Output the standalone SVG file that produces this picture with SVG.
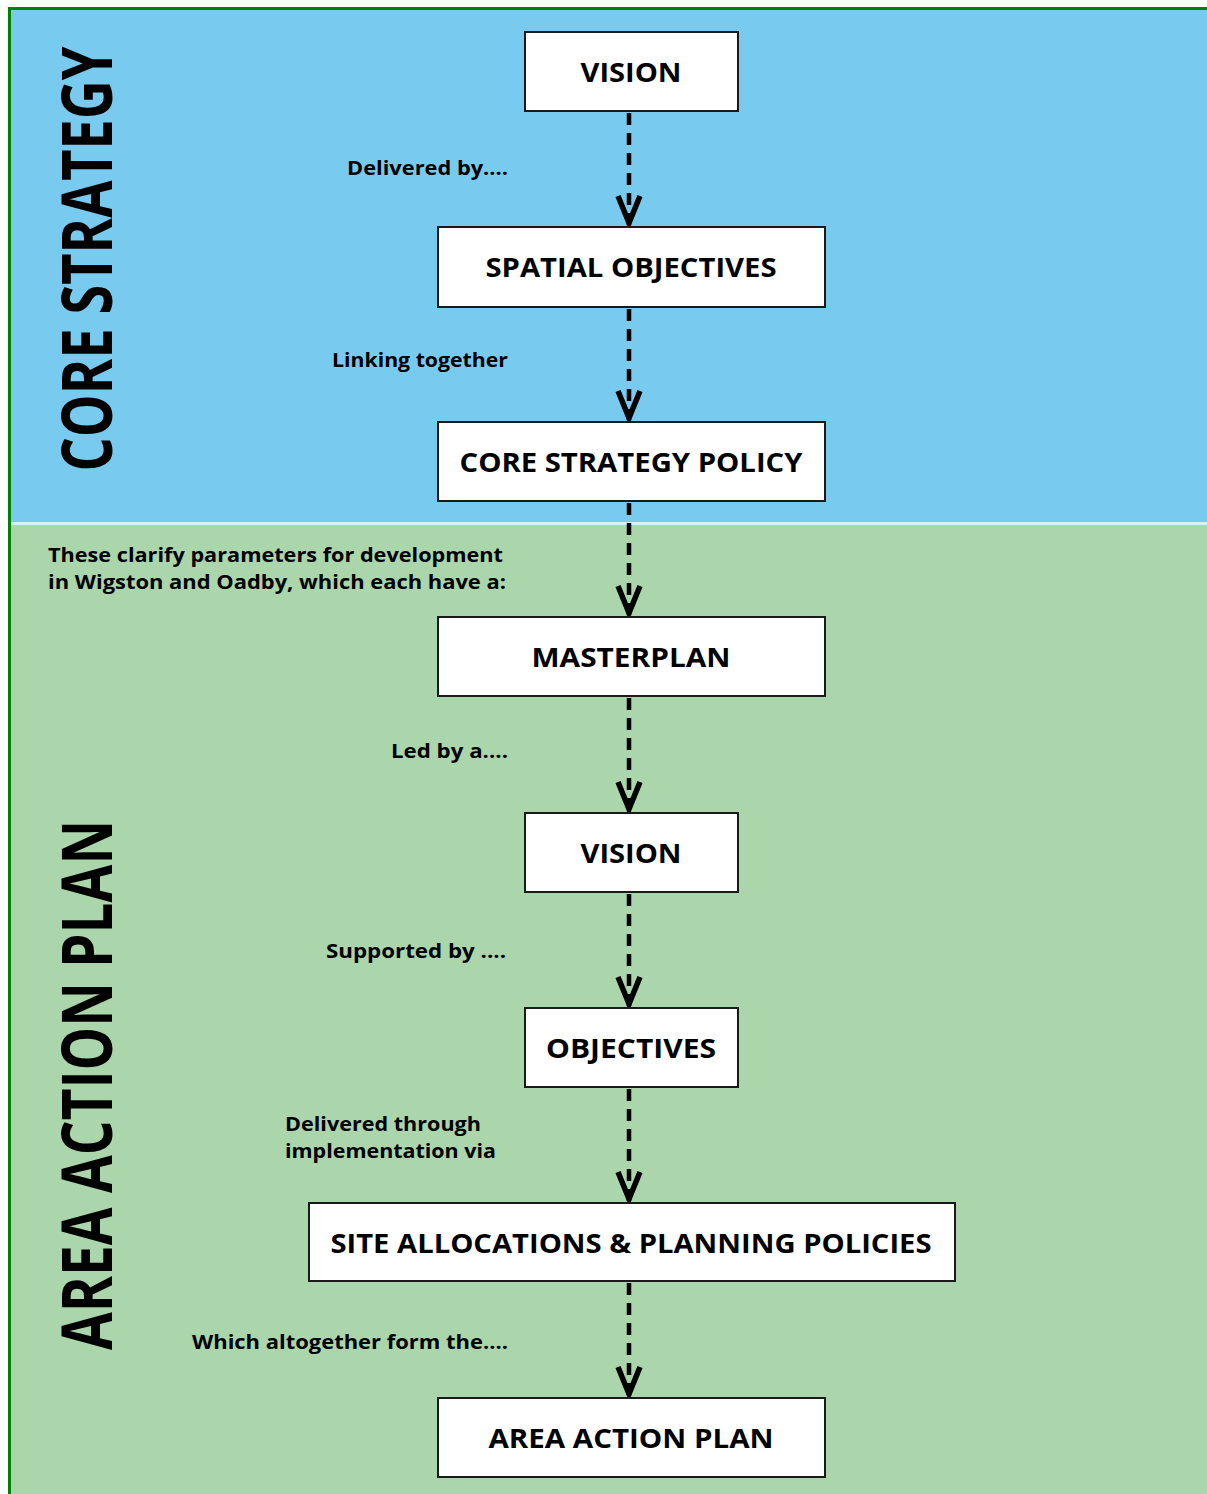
<svg xmlns="http://www.w3.org/2000/svg" width="1207" height="1494" viewBox="0 0 1207 1494">
  <defs>
    <marker id="arr" markerUnits="userSpaceOnUse" viewBox="-34 -16 38 32" refX="0" refY="0" markerWidth="38" markerHeight="32" orient="auto" overflow="visible">
      <path d="M-29,-11 L-2,0 L-29,11" fill="none" stroke="#000" stroke-width="5.5" stroke-linejoin="miter" stroke-miterlimit="10"/>
    </marker>
  </defs>
  <style>
    .box { fill: #ffffff; stroke: #1a1a1a; stroke-width: 2; }
    .lbl { font-family: "Open Sans", "DejaVu Sans", sans-serif; font-weight: 700; font-size: 26px; fill: #000; text-anchor: middle; }
    .note { font-family: "Open Sans", "DejaVu Sans", sans-serif; font-weight: 700; font-size: 19px; fill: #000; }
    .side { font-family: "Open Sans", "DejaVu Sans", sans-serif; font-weight: 700; font-size: 70px; fill: #000; text-anchor: middle; }
    .conn { stroke: #000; stroke-width: 4.5; stroke-dasharray: 12 8; fill: none; marker-end: url(#arr); }
  </style>
  <rect x="0" y="0" width="1207" height="1494" fill="#ffffff"/>
  <rect x="10" y="9" width="1197" height="514" fill="#78CBEE"/>
  <rect x="10" y="525" width="1197" height="969" fill="#ABD5AA"/>
  <rect x="10" y="522" width="1197" height="3" fill="#D4F2F8"/>
  <path d="M9.5,1494 V8.5 H1207" fill="none" stroke="#008000" stroke-width="3"/>

  <text class="side" transform="translate(112,259) rotate(-90)" textLength="425" lengthAdjust="spacingAndGlyphs">CORE STRATEGY</text>
  <text class="side" transform="translate(112,1085) rotate(-90)" textLength="530" lengthAdjust="spacingAndGlyphs">AREA ACTION PLAN</text>

  <g id="connectors">
    <line class="conn" x1="629" y1="113" x2="629" y2="225"/>
    <line class="conn" x1="629" y1="309" x2="629" y2="420"/>
    <line class="conn" x1="629" y1="503" x2="629" y2="615"/>
    <line class="conn" x1="629" y1="698" x2="629" y2="811"/>
    <line class="conn" x1="629" y1="894" x2="629" y2="1006"/>
    <line class="conn" x1="629" y1="1089" x2="629" y2="1201"/>
    <line class="conn" x1="629" y1="1283" x2="629" y2="1396"/>
  </g>

  <g id="labels">
    <text class="note" x="508" y="175" text-anchor="end" textLength="161" lengthAdjust="spacingAndGlyphs">Delivered by....</text>
    <text class="note" x="508" y="367" text-anchor="end" textLength="176" lengthAdjust="spacingAndGlyphs">Linking together</text>
    <text class="note" x="48" y="562" textLength="455" lengthAdjust="spacingAndGlyphs">These clarify parameters for development</text>
    <text class="note" x="48" y="589" textLength="458" lengthAdjust="spacingAndGlyphs">in Wigston and Oadby, which each have a:</text>
    <text class="note" x="508" y="758" text-anchor="end" textLength="117" lengthAdjust="spacingAndGlyphs">Led by a....</text>
    <text class="note" x="506" y="958" text-anchor="end" textLength="180" lengthAdjust="spacingAndGlyphs">Supported by ....</text>
    <text class="note" x="285" y="1131" textLength="196" lengthAdjust="spacingAndGlyphs">Delivered through</text>
    <text class="note" x="285" y="1158" textLength="211" lengthAdjust="spacingAndGlyphs">implementation via</text>
    <text class="note" x="508" y="1349" text-anchor="end" textLength="316" lengthAdjust="spacingAndGlyphs">Which altogether form the....</text>
  </g>

  <g id="vision1">
    <rect class="box" x="525" y="32" width="213" height="79"/>
    <text class="lbl" x="631" y="82" textLength="101" lengthAdjust="spacingAndGlyphs">VISION</text>
  </g>
  <g id="spatial-objectives">
    <rect class="box" x="438" y="227" width="387" height="80"/>
    <text class="lbl" x="631" y="277" textLength="291" lengthAdjust="spacingAndGlyphs">SPATIAL OBJECTIVES</text>
  </g>
  <g id="core-strategy-policy">
    <rect class="box" x="438" y="422" width="387" height="79"/>
    <text class="lbl" x="631" y="472" textLength="343" lengthAdjust="spacingAndGlyphs">CORE STRATEGY POLICY</text>
  </g>
  <g id="masterplan">
    <rect class="box" x="438" y="617" width="387" height="79"/>
    <text class="lbl" x="631" y="667" textLength="199" lengthAdjust="spacingAndGlyphs">MASTERPLAN</text>
  </g>
  <g id="vision2">
    <rect class="box" x="525" y="813" width="213" height="79"/>
    <text class="lbl" x="631" y="863" textLength="101" lengthAdjust="spacingAndGlyphs">VISION</text>
  </g>
  <g id="objectives">
    <rect class="box" x="525" y="1008" width="213" height="79"/>
    <text class="lbl" x="631" y="1058" textLength="170" lengthAdjust="spacingAndGlyphs">OBJECTIVES</text>
  </g>
  <g id="site-allocations">
    <rect class="box" x="309" y="1203" width="646" height="78"/>
    <text class="lbl" x="631" y="1253" textLength="601" lengthAdjust="spacingAndGlyphs">SITE ALLOCATIONS &amp; PLANNING POLICIES</text>
  </g>
  <g id="area-action-plan">
    <rect class="box" x="438" y="1398" width="387" height="79"/>
    <text class="lbl" x="631" y="1448" textLength="285" lengthAdjust="spacingAndGlyphs">AREA ACTION PLAN</text>
  </g>
</svg>
